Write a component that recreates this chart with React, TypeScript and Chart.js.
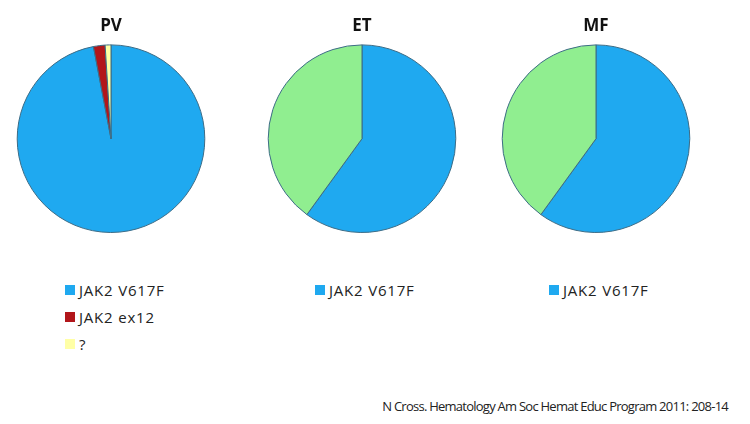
import React, { useEffect, useRef } from "react";
import { Chart, registerables } from "chart.js";

Chart.register(...registerables);

// ---- data ----
const pvLabels = ["JAK2 V617F", "JAK2 ex12", "?"];
const pvValues = [97, 2, 1];
const pvColors = ["#1FA9F0", "#B2161A", "#FFFFA6"];

const etLabels = ["JAK2 V617F", ""];
const etValues = [60, 40];
const etColors = ["#1FA9F0", "#90EE90"];

const mfLabels = ["JAK2 V617F", ""];
const mfValues = [60, 40];
const mfColors = ["#1FA9F0", "#90EE90"];

const titles = ["PV", "ET", "MF"];
const footnote = "N Cross. Hematology Am Soc Hemat Educ Program 2011: 208-14";

const FONT = "'Open Sans', 'Noto Sans', sans-serif";

type PieProps = {
  title: string;
  labels: string[];
  values: number[];
  colors: string[];
  left: number;
};

function Pie({ title, labels, values, colors, left }: PieProps) {
  const ref = useRef<HTMLCanvasElement | null>(null);
  useEffect(() => {
    if (!ref.current) return;
    const chart = new Chart(ref.current, {
      type: "pie",
      data: {
        labels,
        datasets: [
          {
            data: values,
            backgroundColor: colors,
            borderColor: "#3d6c86",
            borderWidth: 1,
          },
        ],
      },
      options: {
        animation: false,
        responsive: false,
        maintainAspectRatio: false,
        layout: { padding: 0 },
        plugins: {
          legend: { display: false },
          tooltip: { enabled: false },
          title: {
            display: true,
            text: title,
            color: "#111",
            font: { family: FONT, size: 17, weight: "bold" },
            padding: { top: 16, bottom: 8 },
          },
        },
      },
    });
    return () => chart.destroy();
  }, []);
  return (
    <canvas
      ref={ref}
      width={200}
      height={233}
      style={{ position: "absolute", left, top: 0, width: 200, height: 233 }}
    />
  );
}

type LegendProps = { labels: string[]; colors: string[]; left: number; top: number };

function Legend({ labels, colors, left, top }: LegendProps) {
  return (
    <div style={{ position: "absolute", left, top }}>
      {labels.map((l, i) =>
        l === "" ? null : (
          <div
            key={i}
            style={{
              display: "flex",
              alignItems: "center",
              height: 27,
              fontFamily: FONT,
              fontSize: 15,
              letterSpacing: 0.8,
              color: "#222",
              whiteSpace: "nowrap",
            }}
          >
            <span
              style={{
                display: "inline-block",
                width: 10,
                height: 10,
                background: colors[i],
                marginRight: 4,
              }}
            />
            {l}
          </div>
        )
      )}
    </div>
  );
}

export default function App() {
  useEffect(() => {
    document.body.style.margin = "0";
  }, []);
  return (
    <div style={{ position: "relative", width: 750, height: 424, background: "#fff", overflow: "hidden" }}>
      <Pie title={titles[0]} labels={pvLabels} values={pvValues} colors={pvColors} left={11} />
      <Pie title={titles[1]} labels={etLabels} values={etValues} colors={etColors} left={262} />
      <Pie title={titles[2]} labels={mfLabels} values={mfValues} colors={mfColors} left={496} />
      <Legend labels={pvLabels} colors={pvColors} left={65} top={276} />
      <Legend labels={etLabels} colors={etColors} left={315} top={276} />
      <Legend labels={mfLabels} colors={mfColors} left={549} top={276} />
      <div
        style={{
          position: "absolute",
          right: 22,
          top: 397,
          fontFamily: FONT,
          fontSize: 13,
          letterSpacing: -0.75,
          color: "#222",
          whiteSpace: "nowrap",
        }}
      >
        {footnote}
      </div>
    </div>
  );
}
